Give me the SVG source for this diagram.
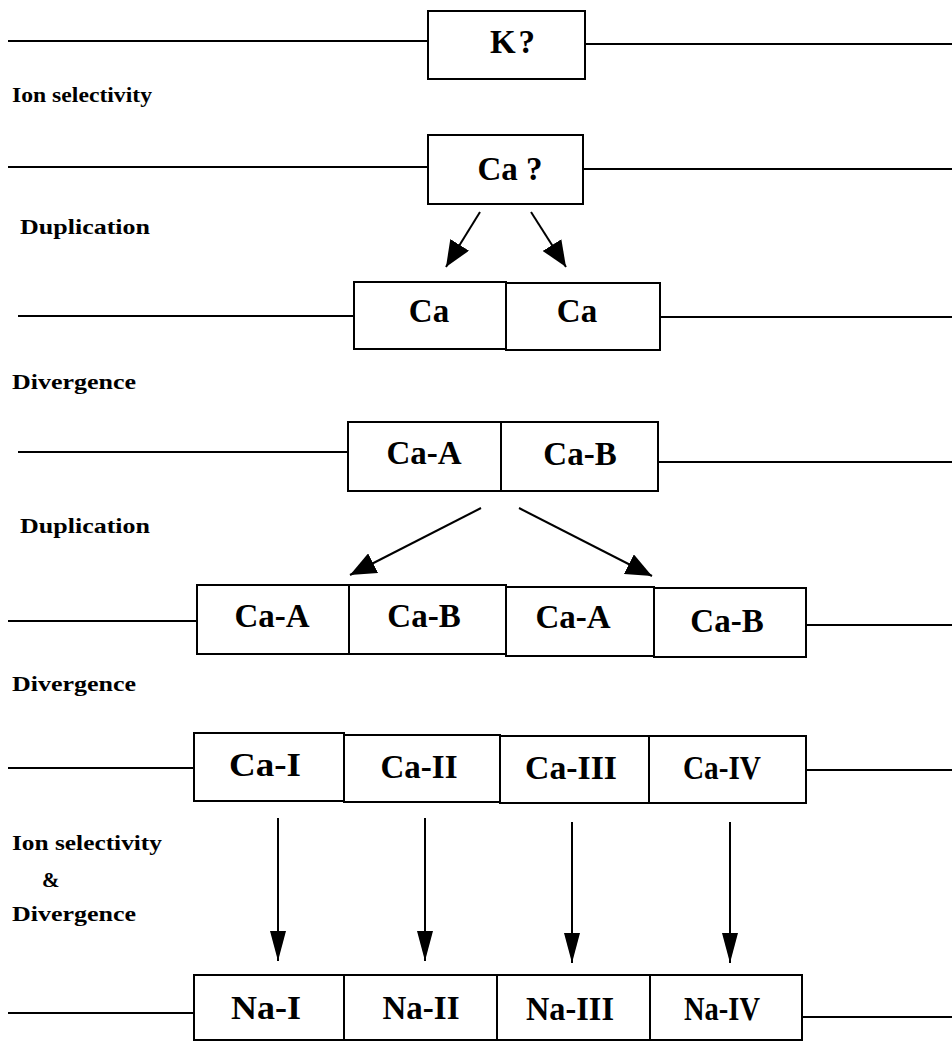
<svg xmlns="http://www.w3.org/2000/svg" width="952" height="1043" viewBox="0 0 952 1043">
<style>
.ln{stroke:#000;stroke-width:2;fill:none}
.bx{stroke:#000;stroke-width:2;fill:#fff}
.lb{font-family:"Liberation Serif",serif;font-weight:bold;font-size:33px;text-anchor:middle;fill:#000}
.st{font-family:"Liberation Serif",serif;font-weight:bold;font-size:21px;fill:#000}
.ar{stroke:#000;stroke-width:2;fill:none}
</style>
<defs>
<marker id="ahw" markerWidth="26" markerHeight="22" refX="26" refY="11" orient="auto" markerUnits="userSpaceOnUse" viewBox="0 0 26 22"><path d="M0,0 L26,11 L0,22 Z" fill="#000"/></marker>
<marker id="ahv" markerWidth="30" markerHeight="16" refX="30" refY="8" orient="auto" markerUnits="userSpaceOnUse" viewBox="0 0 30 16"><path d="M0,0 L30,8 L0,16 Z" fill="#000"/></marker>
</defs>

<g id="backbones">
<line class="ln" x1="8" y1="41" x2="428" y2="41"/><line class="ln" x1="585" y1="44" x2="952" y2="44"/>
<line class="ln" x1="8" y1="167" x2="428" y2="167"/><line class="ln" x1="583" y1="169" x2="952" y2="169"/>
<line class="ln" x1="18" y1="316" x2="354" y2="316"/><line class="ln" x1="660" y1="317" x2="952" y2="317"/>
<line class="ln" x1="18" y1="452" x2="348" y2="452"/><line class="ln" x1="658" y1="462" x2="952" y2="462"/>
<line class="ln" x1="8" y1="621" x2="197" y2="621"/><line class="ln" x1="806" y1="625" x2="952" y2="625"/>
<line class="ln" x1="8" y1="768" x2="194" y2="768"/><line class="ln" x1="806" y1="770" x2="952" y2="770"/>
<line class="ln" x1="8" y1="1013" x2="194" y2="1013"/><line class="ln" x1="800" y1="1017" x2="952" y2="1017"/>
</g>

<g id="n-K"><rect class="bx" x="428" y="11" width="157" height="68"/><text class="lb" x="514" y="53" letter-spacing="3">K?</text></g>
<g id="n-Ca"><rect class="bx" x="428" y="135" width="155" height="69"/><text class="lb" x="510" y="180">Ca ?</text></g>

<g id="n-Ca1"><rect class="bx" x="354" y="282" width="152" height="67"/><text class="lb" x="429" y="322">Ca</text></g>
<g id="n-Ca2"><rect class="bx" x="506" y="283" width="154" height="67"/><text class="lb" x="577" y="322">Ca</text></g>

<g id="n-CaA1"><rect class="bx" x="348" y="422" width="153" height="69"/><text class="lb" x="424" y="464">Ca-A</text></g>
<g id="n-CaB1"><rect class="bx" x="501" y="422" width="157" height="69"/><text class="lb" x="580" y="465">Ca-B</text></g>

<g id="n-CaA2"><rect class="bx" x="197" y="585" width="152" height="69"/><text class="lb" x="272" y="627">Ca-A</text></g>
<g id="n-CaB2"><rect class="bx" x="349" y="585" width="157" height="69"/><text class="lb" x="424" y="627">Ca-B</text></g>
<g id="n-CaA3"><rect class="bx" x="506" y="587" width="148" height="69"/><text class="lb" x="573" y="628">Ca-A</text></g>
<g id="n-CaB3"><rect class="bx" x="654" y="588" width="152" height="69"/><text class="lb" x="727" y="632">Ca-B</text></g>

<g id="n-CaI"><rect class="bx" x="194" y="733" width="150" height="68"/><text class="lb" x="265" y="776" textLength="72" lengthAdjust="spacingAndGlyphs">Ca-I</text></g>
<g id="n-CaII"><rect class="bx" x="344" y="735" width="156" height="67"/><text class="lb" x="419" y="778" textLength="77" lengthAdjust="spacingAndGlyphs">Ca-II</text></g>
<g id="n-CaIII"><rect class="bx" x="500" y="736" width="149" height="67"/><text class="lb" x="571" y="779" textLength="92" lengthAdjust="spacingAndGlyphs">Ca-III</text></g>
<g id="n-CaIV"><rect class="bx" x="649" y="736" width="157" height="67"/><text class="lb" x="722" y="779" textLength="78" lengthAdjust="spacingAndGlyphs">Ca-IV</text></g>

<g id="n-NaI"><rect class="bx" x="194" y="975" width="150" height="65"/><text class="lb" x="266" y="1019" textLength="70" lengthAdjust="spacingAndGlyphs">Na-I</text></g>
<g id="n-NaII"><rect class="bx" x="344" y="975" width="153" height="65"/><text class="lb" x="421" y="1019" textLength="77" lengthAdjust="spacingAndGlyphs">Na-II</text></g>
<g id="n-NaIII"><rect class="bx" x="497" y="975" width="153" height="65"/><text class="lb" x="570" y="1020" textLength="88" lengthAdjust="spacingAndGlyphs">Na-III</text></g>
<g id="n-NaIV"><rect class="bx" x="650" y="975" width="152" height="65"/><text class="lb" x="722" y="1020" textLength="76" lengthAdjust="spacingAndGlyphs">Na-IV</text></g>

<g id="connectors">
<line class="ar" x1="480" y1="212" x2="446" y2="267" marker-end="url(#ahw)"/>
<line class="ar" x1="531" y1="212" x2="566" y2="267" marker-end="url(#ahw)"/>
<line class="ar" x1="481" y1="508" x2="350" y2="575" marker-end="url(#ahw)"/>
<line class="ar" x1="519" y1="508" x2="652" y2="576" marker-end="url(#ahw)"/>
<line class="ar" x1="278" y1="818" x2="278" y2="961" marker-end="url(#ahv)"/>
<line class="ar" x1="425" y1="818" x2="425" y2="961" marker-end="url(#ahv)"/>
<line class="ar" x1="572" y1="822" x2="572" y2="963" marker-end="url(#ahv)"/>
<line class="ar" x1="730" y1="822" x2="730" y2="963" marker-end="url(#ahv)"/>
</g>

<g id="labels">
<text class="st" x="12" y="102" textLength="140" lengthAdjust="spacingAndGlyphs">Ion selectivity</text>
<text class="st" x="20" y="234" textLength="130" lengthAdjust="spacingAndGlyphs">Duplication</text>
<text class="st" x="12" y="389" textLength="124" lengthAdjust="spacingAndGlyphs">Divergence</text>
<text class="st" x="20" y="533" textLength="130" lengthAdjust="spacingAndGlyphs">Duplication</text>
<text class="st" x="12" y="691" textLength="124" lengthAdjust="spacingAndGlyphs">Divergence</text>
<text class="st" x="12" y="850" textLength="150" lengthAdjust="spacingAndGlyphs">Ion selectivity</text>
<text class="st" x="42" y="887">&amp;</text>
<text class="st" x="12" y="921" textLength="124" lengthAdjust="spacingAndGlyphs">Divergence</text>
</g>
</svg>
